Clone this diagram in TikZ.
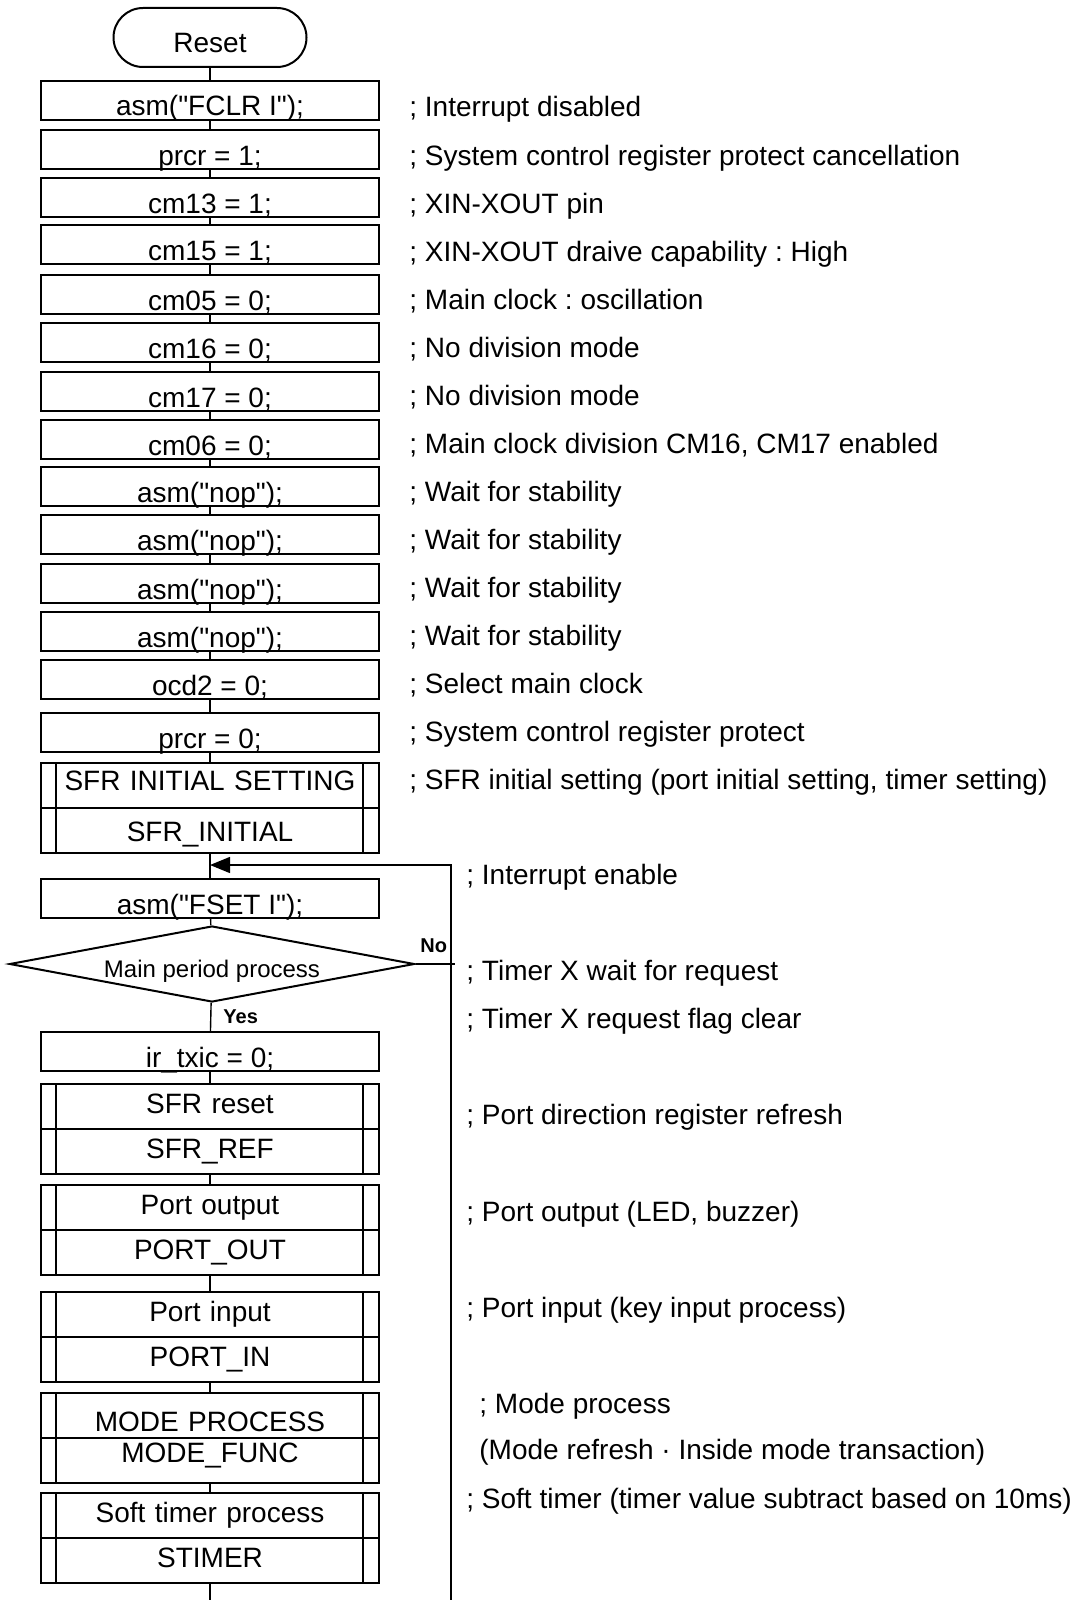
\documentclass[tikz,border=0pt]{standalone}
\usepackage{fontspec}
\setmainfont{Liberation Sans}
\usetikzlibrary{shapes.geometric,shapes.multipart,arrows.meta}

\newcommand\qt{\XeTeXglyph\XeTeXcharglyph"22\relax}
\newcommand\cell[1]{\rule[-7.5pt]{0pt}{21.5pt}#1}
\frenchspacing

\tikzset{
  term/.style={draw, line width=1pt, rectangle, rounded corners=14.75pt, anchor=north,
    minimum width=96.5pt, minimum height=29.5pt, inner sep=0pt,
    text height=22.5pt, text depth=7pt, font=\fontsize{14}{16}\selectfont},
  prc/.style={draw, line width=1pt, rectangle, anchor=north,
    minimum width=169pt, minimum height=19.5pt, inner sep=0pt,
    text height=17.5pt, text depth=2pt, font=\fontsize{14}{16}\selectfont},
  subr/.style={draw, line width=1pt, rectangle split, rectangle split parts=2, anchor=north,
    text width=168pt, align=center, inner xsep=0.5pt, inner ysep=0pt,
    font=\fontsize{14}{16}\selectfont},
  decision/.style={draw, line width=1pt, diamond, shape aspect=5.3,
    minimum width=202.5pt, minimum height=38pt, inner sep=0pt,
    text height=13pt, text depth=0pt, font=\fontsize{12}{14}\selectfont},
  cmt/.style={anchor=base west, inner sep=0pt, font=\fontsize{14}{16}\selectfont},
  yn/.style={anchor=base west, inner sep=0pt, font=\fontsize{10}{12}\selectfont\bfseries},
  flow/.style={line width=0.7pt},
}

\begin{document}
\begin{tikzpicture}[x=0.5pt, y=-0.5pt]
  \useasboundingbox (0,0) rectangle (1074,1600);

  % initial settings
  \node[term] (reset) at (210,7) {Reset};
  \node[prc] (fclr)  at (210,80)  {asm(\qt FCLR I\qt);};
  \node[prc] (prcr1) at (210,129) {prcr = 1;};
  \node[prc] (cm13)  at (210,177) {cm13 = 1;};
  \node[prc] (cm15)  at (210,224) {cm15 = 1;};
  \node[prc] (cm05)  at (210,274) {cm05 = 0;};
  \node[prc] (cm16)  at (210,322) {cm16 = 0;};
  \node[prc] (cm17)  at (210,371) {cm17 = 0;};
  \node[prc] (cm06)  at (210,419) {cm06 = 0;};
  \node[prc] (nop1)  at (210,466) {asm(\qt nop\qt);};
  \node[prc] (nop2)  at (210,514) {asm(\qt nop\qt);};
  \node[prc] (nop3)  at (210,563) {asm(\qt nop\qt);};
  \node[prc] (nop4)  at (210,611) {asm(\qt nop\qt);};
  \node[prc] (ocd2)  at (210,659) {ocd2 = 0;};
  \node[prc] (prcr0) at (210,712) {prcr = 0;};
  \node[subr] (sfrini) at (210,762)
    {\cell{\raisebox{1pt}{SFR INITIAL SETTING}}\nodepart{two}\cell{\raisebox{-2pt}{SFR\_INITIAL}}};

  % main loop
  \node[prc] (fset) at (210,878) {asm(\qt FSET I\qt);};
  \node[decision] (period) at (212,964) {Main period process};
  \node[prc] (irtxic) at (210,1031) {ir\_txic = 0;};
  \node[subr] (sfrref)  at (210,1083) {\cell{SFR reset}\nodepart{two}\cell{SFR\_REF}};
  \node[subr] (portout) at (210,1184) {\cell{Port output}\nodepart{two}\cell{PORT\_OUT}};
  \node[subr] (portin)  at (210,1291) {\cell{Port input}\nodepart{two}\cell{PORT\_IN}};
  \node[subr] (mode)    at (210,1392)
    {\cell{\raisebox{-4.5pt}{MODE PROCESS}}\nodepart{two}\cell{\raisebox{2.5pt}{MODE\_FUNC}}};
  \node[subr] (stimer)  at (210,1492) {\cell{Soft timer process}\nodepart{two}\cell{STIMER}};

  \foreach \n in {sfrini,sfrref,portout,portin,mode,stimer}
    \draw[line width=1pt] ([xshift=8pt]\n.north west) -- ([xshift=8pt]\n.south west)
      ([xshift=-8.5pt]\n.north east) -- ([xshift=-8.5pt]\n.south east);

  % connectors
  \foreach \a/\b in {reset/fclr,fclr/prcr1,prcr1/cm13,cm13/cm15,cm15/cm05,cm05/cm16,
      cm16/cm17,cm17/cm06,cm06/nop1,nop1/nop2,nop2/nop3,nop3/nop4,nop4/ocd2,
      ocd2/prcr0,prcr0/sfrini,sfrini/fset,fset/period,period/irtxic,irtxic/sfrref,
      sfrref/portout,portout/portin,portin/mode,mode/stimer}
    \draw[flow] (\a) -- (\b);
  \coordinate (flowend) at (210,1600);
  \draw[flow] (stimer) -- (flowend);

  \coordinate (noend) at (455,964);
  \coordinate (lpbot) at (451,1600);
  \coordinate (lptop) at (451,865);
  \draw[flow] (period.east) -- (noend);
  \draw[flow, -{Triangle[length=10pt,width=8pt]}] (lpbot) -- (lptop) -- (lptop -| fset.north);
  \node[yn] (no)  at (420,952)  {No};
  \node[yn] (yes) at (223,1023) {Yes};

  % comments
  \node[cmt] (c1)  at (409,117) {; Interrupt disabled};
  \node[cmt] (c2)  at (409,165) {; System control register protect cancellation};
  \node[cmt] (c3)  at (409,213) {; XIN-XOUT pin};
  \node[cmt] (c4)  at (409,261) {; XIN-XOUT draive capability : High};
  \node[cmt] (c5)  at (409,309) {; Main clock : oscillation};
  \node[cmt] (c6)  at (409,357) {; No division mode};
  \node[cmt] (c7)  at (409,405) {; No division mode};
  \node[cmt] (c8)  at (409,453) {; Main clock division CM16, CM17 enabled};
  \node[cmt] (c9)  at (409,501) {; Wait for stability};
  \node[cmt] (c10) at (409,549) {; Wait for stability};
  \node[cmt] (c11) at (409,597) {; Wait for stability};
  \node[cmt] (c12) at (409,645) {; Wait for stability};
  \node[cmt] (c13) at (409,693) {; Select main clock};
  \node[cmt] (c14) at (409,741) {; System control register protect};
  \node[cmt] (c15) at (409,789) {; SFR initial setting (port initial setting, timer setting)};
  \node[cmt] (c16) at (466,884) {; Interrupt enable};
  \node[cmt] (c17) at (466,980) {; Timer X wait for request};
  \node[cmt] (c18) at (466,1028) {; Timer X request flag clear};
  \node[cmt] (c19) at (466,1124) {; Port direction register refresh};
  \node[cmt] (c20) at (466,1221) {; Port output (LED, buzzer)};
  \node[cmt] (c21) at (466,1317) {; Port input (key input process)};
  \node[cmt] (c22) at (479,1413) {; Mode process};
  \node[cmt] (c23) at (479,1459) {(Mode refresh · Inside mode transaction)};
  \node[cmt] (c24) at (466,1508) {; Soft timer (timer value subtract based on 10ms)};
\end{tikzpicture}
\end{document}
